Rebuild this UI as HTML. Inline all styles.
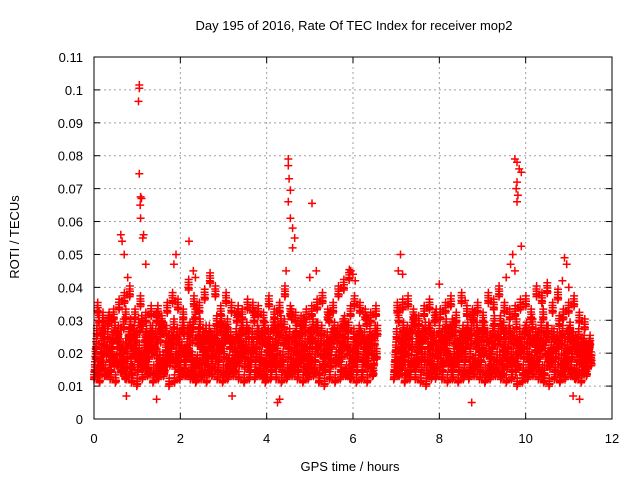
<!DOCTYPE html>
<html><head><meta charset="utf-8"><style>
body{margin:0;background:#fff}
svg{display:block;font-family:"Liberation Sans",sans-serif}
</style></head><body>
<svg id="chart" width="640" height="480">
<text x="354" y="30" text-anchor="middle" font-size="13">Day 195 of 2016, Rate Of TEC Index for receiver mop2</text>
<text x="350" y="471" text-anchor="middle" font-size="13">GPS time / hours</text>
<text transform="translate(19,237) rotate(-90)" text-anchor="middle" font-size="13">ROTI / TECUs</text>
<g id="grid"></g>
<g id="ticks"></g>
<g id="points"></g>
<rect x="94" y="57" width="518" height="362" fill="none" stroke="#000" stroke-width="1"/>
</svg>
<script>
const xTicks=[0,2,4,6,8,10,12];
const yTicks=[0,0.01,0.02,0.03,0.04,0.05,0.06,0.07,0.08,0.09,0.1,0.11];
const yTickLabels=["0","0.01","0.02","0.03","0.04","0.05","0.06","0.07","0.08","0.09","0.1","0.11"];
const binStep=0.124;
const s1=[12,11,13,12,11,14,12,11,10,12,13,11,12,13,10,11,12,13,12,11,12,11,13,12,11,12,13,12,11,12,12,13,11,12,12,11,12,13,12,11,12,13,11,10,12,11,12,13,12,11,12,11,13,null,null,null,12,13,11,12,12,11,10,12,13,12,11,12,11,12,12,13,12,11,12,13,12,11,12,10,11,12,13,12,11,10,12,11,12,13,12,11,13];
const s2=[15,16,14,15,17,15,16,14,15,16,15,14,16,15,17,16,15,14,15,16,14,15,16,15,14,16,15,17,16,15,15,14,16,15,17,15,14,16,15,16,16,15,14,15,16,17,15,14,16,15,15,16,14,null,null,null,15,16,14,15,16,15,14,15,16,15,17,16,15,14,15,16,15,14,16,15,14,16,15,16,14,15,16,15,14,16,15,14,16,15,14,15,16];
const s3=[19,18,20,19,17,18,19,20,18,17,19,20,18,17,19,18,20,19,18,17,18,19,20,18,19,17,18,20,19,18,19,18,17,19,20,18,19,17,18,20,19,18,20,19,17,18,19,20,18,19,18,20,17,null,null,null,18,19,20,17,18,19,18,20,19,17,18,19,20,18,19,17,18,20,19,18,17,19,18,20,19,18,17,19,20,18,19,17,18,19,18,17,19];
const s4=[22,23,21,22,24,21,23,22,20,21,23,22,24,21,22,23,21,22,24,23,21,22,23,21,24,22,21,23,22,21,22,23,21,22,24,23,22,21,23,22,24,22,23,21,22,24,23,22,21,23,22,21,23,null,null,null,21,22,23,22,21,24,22,23,21,22,24,23,21,22,23,22,21,24,22,23,21,22,23,21,22,23,21,22,24,21,22,23,21,22,21,22,20];
const s5=[26,27,25,24,26,28,25,26,27,24,26,25,27,26,24,25,27,26,28,25,24,26,25,27,26,24,25,26,27,25,26,24,25,27,26,28,25,24,26,27,25,27,26,24,25,26,28,27,25,26,24,25,26,null,null,null,25,24,26,27,26,25,27,24,26,25,26,27,24,25,26,27,25,24,26,25,27,26,24,25,26,24,25,27,26,25,24,26,25,24,25,23,22];
const s6=[33,30,29,31,34,36,38,31,35,30,32,30,29,33,36,34,31,40,35,33,37,42,38,32,36,33,30,31,34,33,32,30,35,31,33,38,32,30,29,31,32,34,36,31,33,38,40,43,35,33,31,30,32,null,null,null,33,34,35,31,29,32,34,30,31,33,35,30,36,32,31,33,30,36,34,38,33,31,32,34,35,31,38,36,39,33,37,31,33,35,30,28,23];
const s7=[14,20,30,17,22,13,28,19,16,25,21,14,27,18,23,15,26,20,13,28,17,24,19,29,14,22,18,27,16,21,25,13,20,28,17,23,15,26,19,14,22,27,16,20,24,18,29,13,21,25,17,23,19,null,null,null,14,27,20,16,24,18,26,13,21,28,15,22,19,27,16,24,20,14,29,18,22,25,15,21,27,17,23,14,26,19,22,16,25,13,20,15,18];
const s8=[30,25,18,27,20,31,16,24,29,19,26,32,17,23,28,20,18,27,31,22,26,19,29,23,28,17,32,21,25,30,18,27,22,16,29,24,31,20,26,17,28,23,19,30,27,21,25,32,18,24,29,20,26,null,null,null,30,18,25,29,22,27,17,31,24,20,28,18,26,23,30,21,27,19,23,29,25,18,28,22,19,28,24,31,18,25,29,20,27,23,18,21,17];
const outT=[1.05,1.05,1.03,1.05,1.08,1.1,1.07,1.08,1.15,1.13,0.62,0.65,0.7,0.78,1.2,1.9,1.85,2.2,2.3,2.35,4.5,4.5,4.52,4.55,4.5,4.55,4.6,4.65,4.6,5.05,5.15,5.0,5.95,6.0,6.05,7.1,7.05,7.15,8.0,9.75,9.8,9.85,9.9,9.8,9.78,9.82,9.8,9.9,9.7,9.65,9.75,10.9,10.95,10.85,11.0,9.55,8.6,4.45,4.25,4.3,8.75,0.75,1.45,3.2,11.1,11.25];
const outV=[0.1015,0.1005,0.0965,0.0745,0.0675,0.067,0.065,0.061,0.056,0.055,0.056,0.054,0.05,0.043,0.047,0.05,0.047,0.054,0.045,0.043,0.079,0.077,0.073,0.0695,0.066,0.061,0.058,0.055,0.052,0.0655,0.045,0.043,0.045,0.044,0.042,0.05,0.045,0.044,0.041,0.079,0.078,0.076,0.075,0.072,0.07,0.068,0.066,0.0525,0.05,0.047,0.045,0.049,0.047,0.042,0.04,0.043,0.036,0.045,0.005,0.006,0.005,0.007,0.006,0.007,0.007,0.006];

const NS="http://www.w3.org/2000/svg";
const X=t=>94+t*(518/12);
const Y=v=>419-v*(362/0.11);
function mk(tag,attrs,parent){const e=document.createElementNS(NS,tag);for(const k in attrs)e.setAttribute(k,attrs[k]);parent.appendChild(e);return e;}
const grid=document.getElementById('grid'),ticks=document.getElementById('ticks'),pts=document.getElementById('points');
xTicks.forEach(t=>{
  if(t>0&&t<12){const l=mk('line',{x1:X(t),x2:X(t),y1:57,y2:419,stroke:'#a0a0a0','stroke-dasharray':'2,3'},grid);
  
  }
  mk('line',{x1:X(t),x2:X(t),y1:419,y2:413,stroke:'#000'},ticks);
  mk('line',{x1:X(t),x2:X(t),y1:57,y2:63,stroke:'#000'},ticks);
  const tx=mk('text',{x:X(t),y:443,'text-anchor':'middle','font-size':13},ticks);
  tx.textContent=t;
  
  
});
yTicks.forEach((v,i)=>{
  if(i>0&&i<yTicks.length-1){const l=mk('line',{x1:94,x2:612,y1:Y(v),y2:Y(v),stroke:'#a0a0a0','stroke-dasharray':'2,3'},grid);
  
  }
  mk('line',{x1:94,x2:100,y1:Y(v),y2:Y(v),stroke:'#000'},ticks);
  mk('line',{x1:612,x2:606,y1:Y(v),y2:Y(v),stroke:'#000'},ticks);
  const tx=mk('text',{x:83,y:Y(v)+5,'text-anchor':'end','font-size':13},ticks);
  tx.textContent=yTickLabels[i];
  
  
});
let d='';
function plus(t,v){const x=X(t),y=Y(v);d+=`M${(x-4).toFixed(1)} ${y.toFixed(1)}h8M${x.toFixed(1)} ${(y-4).toFixed(1)}v8`;}
const copyDt=[0,0.17,0.33,0.5,0.67,0.83];
const copyDv=[0,1.5,-0.8,2.4,0.8,-0.3];
[s1,s2,s3,s4,s5,s6,s7,s8].forEach((s,k)=>{
  s.forEach((val,i)=>{if(val==null)return;
    copyDt.forEach((f,c)=>{
      let v=val+copyDv[c]; if(k===0&&copyDv[c]<0) v=val+0.5;
      plus(i*binStep+(k+f)*binStep/8,v/1000);
    });
  });
});
outT.forEach((t,i)=>plus(t,outV[i]));
const p=mk('path',{d:d,stroke:'#ff0000','stroke-width':1.5,fill:'none'},pts);


</script>
</body></html>
